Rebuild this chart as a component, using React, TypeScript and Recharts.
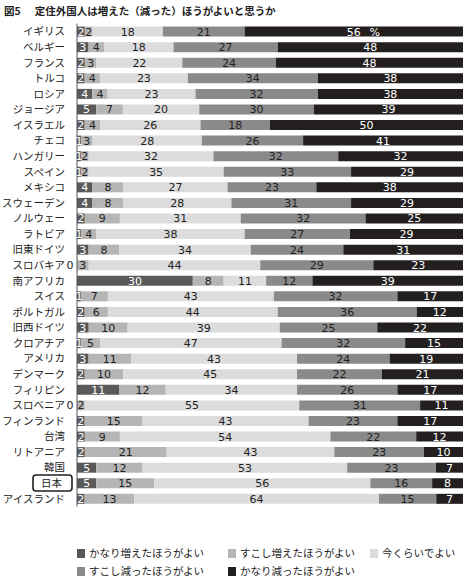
import { BarChart, Bar, XAxis, YAxis, LabelList, Legend } from 'recharts';

const countries = [
  'イギリス', 'ベルギー', 'フランス', 'トルコ', 'ロシア', 'ジョージア', 'イスラエル', 'チェコ',
  'ハンガリー', 'スペイン', 'メキシコ', 'スウェーデン', 'ノルウェー', 'ラトビア', '旧東ドイツ',
  'スロバキア', '南アフリカ', 'スイス', 'ポルトガル', '旧西ドイツ', 'クロアチア', 'アメリカ',
  'デンマーク', 'フィリピン', 'スロベニア', 'フィンランド', '台湾', 'リトアニア', '韓国', '日本',
  'アイスランド',
];
const muchMore = [2, 3, 2, 2, 4, 5, 2, 1, 1, 1, 4, 4, 2, 1, 3, 0, 30, 1, 2, 3, 1, 3, 2, 11, 0, 2, 2, 2, 5, 5, 2];
const bitMore = [2, 4, 3, 4, 4, 7, 4, 3, 2, 2, 8, 8, 9, 4, 8, 3, 8, 7, 6, 10, 5, 11, 10, 12, 2, 15, 9, 21, 12, 15, 13];
const asNow = [18, 18, 22, 23, 23, 20, 26, 28, 32, 35, 27, 28, 31, 38, 34, 44, 11, 43, 44, 39, 47, 43, 45, 34, 55, 43, 54, 43, 53, 56, 64];
const bitFewer = [21, 27, 24, 34, 32, 30, 18, 26, 32, 33, 23, 31, 32, 27, 24, 29, 12, 32, 36, 25, 32, 24, 22, 26, 31, 23, 22, 23, 23, 16, 15];
const muchFewer = [56, 48, 48, 38, 38, 39, 50, 41, 32, 29, 38, 29, 25, 29, 31, 23, 39, 17, 12, 22, 15, 19, 21, 17, 11, 17, 12, 10, 7, 8, 7];

const seriesNames = [
  'かなり増えたほうがよい',
  'すこし増えたほうがよい',
  '今くらいでよい',
  'すこし減ったほうがよい',
  'かなり減ったほうがよい',
];

const data = countries.map((name, i) => ({
  name,
  s1: muchMore[i],
  s2: bitMore[i],
  s3: asNow[i],
  s4: bitFewer[i],
  s5: muchFewer[i],
}));

const colors = ['#595959', '#b5b5b5', '#dcdcdc', '#8a8a8a', '#231f1f'];
const numFont = '"DejaVu Sans", sans-serif';
const jpFont = '"Noto Sans CJK JP", sans-serif';

const makeLabel = (textColor: string, withPct = false) => (props: any) => {
  const { x, y, width, height, value } = props;
  if (value === undefined || value === null) return null;
  const v = Number(value);
  const cx = Number(x) + Number(width) / 2;
  const cy = Number(y) + Number(height) / 2;
  return (
    <g>
      <text x={cx} y={cy} dy={4} textAnchor="middle" fontSize={11} fontFamily={numFont} fill={textColor}>
        {v}
      </text>
      {withPct && v === 56 ? (
        <text x={cx + 21} y={cy} dy={4} textAnchor="middle" fontSize={11} fontFamily={numFont} fill={textColor}>
          %
        </text>
      ) : null}
    </g>
  );
};

// zero-width first segments get their "0" drawn just left of the axis
const ZeroLabel = (props: any) => {
  const { x, y, height, value } = props;
  const i = countries.indexOf(value);
  if (i < 0 || muchMore[i] !== 0) return null;
  return (
    <text x={Number(x) - 7} y={Number(y) + Number(height) / 2} dy={4} textAnchor="middle" fontSize={11} fontFamily={numFont} fill="#222">
      0
    </text>
  );
};

const CountryTick = (props: any) => {
  const { x, y, payload } = props;
  const isJapan = payload.value === '日本';
  return (
    <g>
      {isJapan ? (
        <rect x={33} y={y - 8} width={39} height={16} rx={3} fill="none" stroke="#222" strokeWidth={1.6} />
      ) : null}
      <text x={isJapan ? 62 : x} y={y} dy={4} textAnchor="end" fontSize={10.5} fontFamily={jpFont} fill="#222">
        {payload.value}
      </text>
    </g>
  );
};

const legendPos = [
  { left: 77, top: 0 },
  { left: 228, top: 0 },
  { left: 370, top: 0 },
  { left: 77, top: 18 },
  { left: 228, top: 18 },
];

const LegendBox = () => (
  <div style={{ position: 'relative', width: 470, height: 36 }}>
    {seriesNames.map((n, i) => (
      <div
        key={n}
        style={{
          position: 'absolute',
          left: legendPos[i].left,
          top: legendPos[i].top,
          display: 'flex',
          alignItems: 'center',
          fontFamily: jpFont,
          fontSize: 10.5,
          color: '#222',
          lineHeight: '14px',
          whiteSpace: 'nowrap',
        }}
      >
        <span style={{ display: 'inline-block', width: 8, height: 9, background: colors[i], marginRight: 4 }} />
        {n}
      </div>
    ))}
  </div>
);

export default function App() {
  return (
    <div style={{ position: 'absolute', left: 0, top: 0, width: 470, height: 580, background: '#fff' }}>
      <div
        style={{
          position: 'absolute',
          left: 4,
          top: 3,
          fontFamily: jpFont,
          fontWeight: 'bold',
          fontSize: 10.5,
          color: '#222',
          whiteSpace: 'nowrap',
        }}
      >
        図5<span style={{ marginLeft: 14 }}>定住外国人は増えた（減った）ほうがよいと思うか</span>
      </div>
      <BarChart
        width={470}
        height={580}
        data={data}
        layout="vertical"
        stackOffset="expand"
        barSize={10}
        margin={{ top: 23.6, right: 7, bottom: 37.6, left: 0 }}
      >
        <XAxis type="number" hide domain={[0, 1]} />
        <YAxis
          type="category"
          dataKey="name"
          width={77}
          tickLine={false}
          tickSize={0}
          tickMargin={12}
          axisLine={{ stroke: '#555', strokeWidth: 1 }}
          tick={<CountryTick />}
          interval={0}
        />
        <Bar dataKey="s1" name={seriesNames[0]} stackId="a" fill={colors[0]} isAnimationActive={false}>
          <LabelList dataKey="s1" content={makeLabel('#fff')} />
        </Bar>
        <Bar dataKey="s2" name={seriesNames[1]} stackId="a" fill={colors[1]} isAnimationActive={false}>
          <LabelList dataKey="s2" content={makeLabel('#222')} />
          <LabelList dataKey="name" content={ZeroLabel} />
        </Bar>
        <Bar dataKey="s3" name={seriesNames[2]} stackId="a" fill={colors[2]} isAnimationActive={false}>
          <LabelList dataKey="s3" content={makeLabel('#222')} />
        </Bar>
        <Bar dataKey="s4" name={seriesNames[3]} stackId="a" fill={colors[3]} isAnimationActive={false}>
          <LabelList dataKey="s4" content={makeLabel('#222')} />
        </Bar>
        <Bar dataKey="s5" name={seriesNames[4]} stackId="a" fill={colors[4]} isAnimationActive={false}>
          <LabelList dataKey="s5" content={makeLabel('#fff', true)} />
        </Bar>
        <Legend
          content={<LegendBox />}
          wrapperStyle={{ position: 'absolute', left: 0, top: 546, width: 470, height: 36 }}
        />
      </BarChart>
    </div>
  );
}
